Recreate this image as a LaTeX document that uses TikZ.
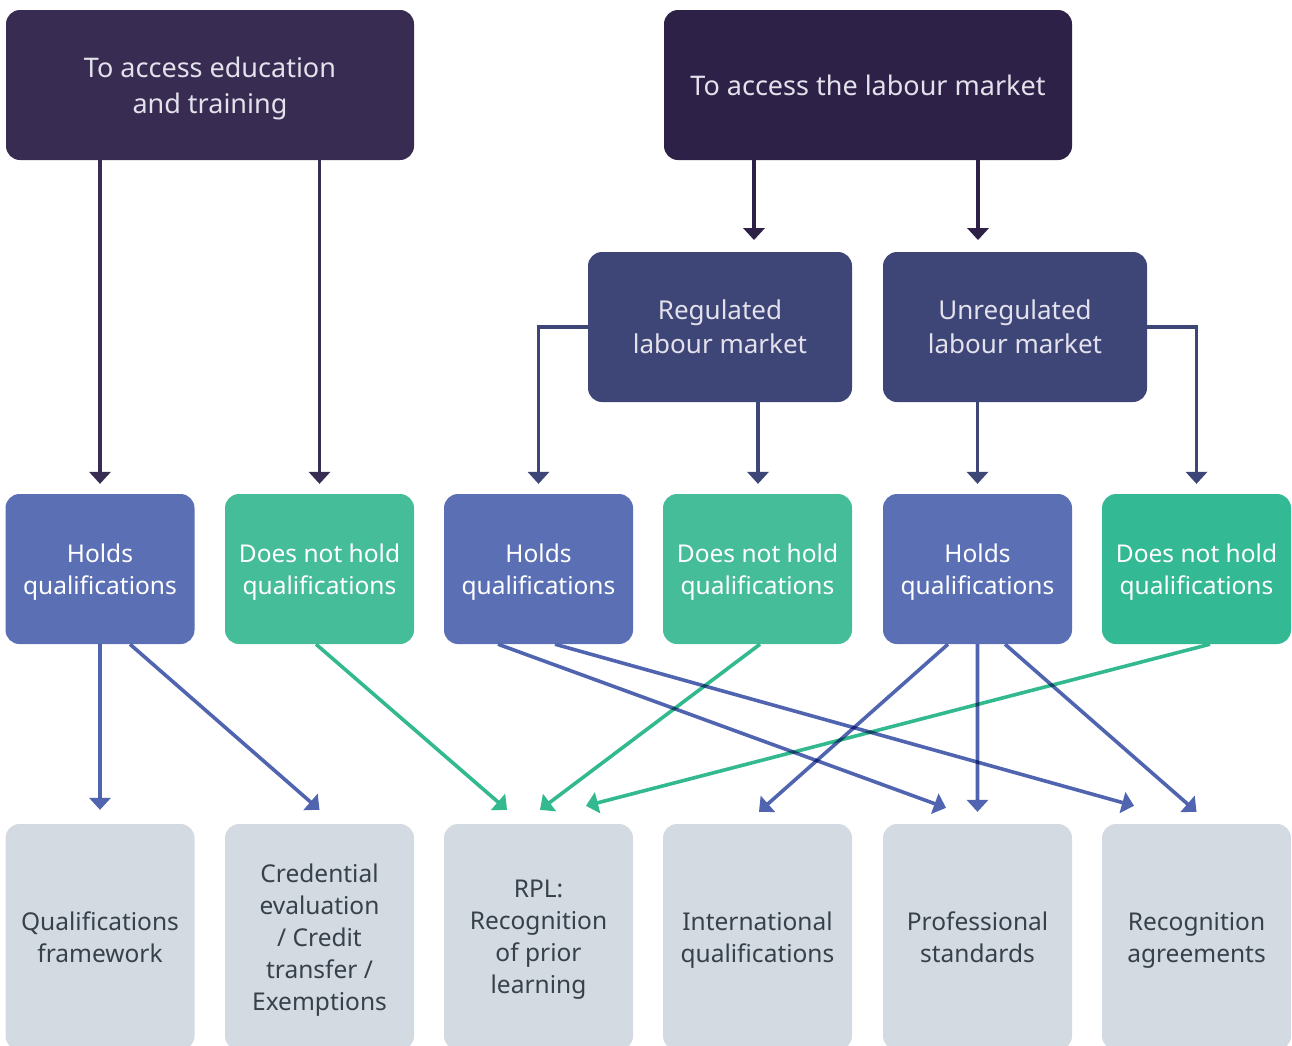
\documentclass[tikz,border=0pt]{standalone}
\usepackage{fontspec}
\setmainfont{Noto Sans}
\usetikzlibrary{arrows.meta}
\definecolor{topL}{HTML}{382C52}
\definecolor{topR}{HTML}{2E2147}
\definecolor{mid}{HTML}{3E4577}
\definecolor{blu}{HTML}{5B6FB5}
\definecolor{grn}{HTML}{45BD99}
\definecolor{grnB}{HTML}{33B994}
\definecolor{gry}{HTML}{D3DAE1}
\definecolor{bluA}{HTML}{5064B0}
\definecolor{grnA}{HTML}{33B98F}
\definecolor{lightT}{HTML}{E3E2EC}
\definecolor{darkT}{HTML}{37414B}
\tikzset{
  box/.style={rounded corners=14pt, inner sep=0pt, align=center, minimum height=150pt, text depth=0pt},
  topbox/.style={box, minimum width=408pt, text=lightT, font=\fontsize{27}{36.5}\selectfont},
  midbox/.style={box, fill=mid, minimum width=264pt, text=lightT, font=\fontsize{26}{34}\selectfont},
  qbox/.style={box, minimum width=189pt, text=white, font=\fontsize{24.5}{32}\selectfont},
  outbox/.style={box, fill=gry, minimum width=189pt, minimum height=226pt, text=darkT, font=\fontsize{24.5}{32}\selectfont},
  conn/.style={line width=3.6pt, -{Triangle[width=22pt,length=12pt,line width=0pt]}},
}
\begin{document}
\begin{tikzpicture}[x=1pt,y=-1pt]
\useasboundingbox (0,0) rectangle (1292,1045);
\clip (0,0) rectangle (1292,1045);
% top
\node[topbox, fill=topL] (edu) at (210,85) {To access education\\and training};
\node[topbox, fill=topR] (lab) at (868,85) {To access the labour market};
% middle
\node[midbox] (reg) at (720,327) {Regulated\\labour market};
\node[midbox] (unreg) at (1015,327) {Unregulated\\labour market};
% row 3
\node[qbox, fill=blu] (h1) at (100,569) {Holds\\qualifications};
\node[qbox, fill=grn] (n1) at (319.5,569) {Does not hold\\qualifications};
\node[qbox, fill=blu] (h2) at (538.5,569) {Holds\\qualifications};
\node[qbox, fill=grn] (n2) at (757.5,569) {Does not hold\\qualifications};
\node[qbox, fill=blu] (h3) at (977.5,569) {Holds\\qualifications};
\node[qbox, fill=grnB] (n3) at (1196.5,569) {Does not hold\\qualifications};
% row 4
\node[outbox] (qf) at (100,937) {Qualifications\\framework};
\node[outbox] (ce) at (319.5,937) {Credential\\evaluation\\/ Credit\\transfer /\\Exemptions};
\node[outbox] (rpl) at (538.5,937) {RPL:\\Recognition\\of prior\\learning};
\node[outbox] (iq) at (757.5,937) {International\\qualifications};
\node[outbox] (ps) at (977.5,937) {Professional\\standards};
\node[outbox] (ra) at (1196.5,937) {Recognition\\agreements};

% top connectors
\draw[conn, topL] (edu.south -| h1.north) -- ([yshift=10pt]h1.north);
\draw[conn, topL] (edu.south -| n1.north) -- ([yshift=10pt]n1.north);
\coordinate (lt1) at (754,240);
\coordinate (lt2) at (978,240);
\draw[conn, topR] (lab.south -| lt1) -- (lt1);
\draw[conn, topR] (lab.south -| lt2) -- (lt2);
% middle connectors
\draw[conn, mid] (reg.west) -| ([yshift=10pt]h2.north);
\draw[conn, mid] ([xshift=38pt]reg.south) -- ([xshift=38pt,yshift=10pt]reg.south |- h2.north);
\draw[conn, mid] (unreg.south -| h3.north) -- ([yshift=10pt]h3.north);
\draw[conn, mid] (unreg.east) -| ([yshift=10pt]n3.north);

% bottom connectors
\begin{scope}[blend group=multiply]
\draw[conn, bluA] (h1.south) -- ([yshift=14pt]qf.north);
\draw[conn, bluA] ([xshift=30pt]h1.south) -- ([yshift=14pt]ce.north);
\draw[conn, grnA] ([xshift=-3.5pt]n1.south) -- ([xshift=-31.5pt,yshift=14pt]rpl.north);
\draw[conn, bluA] ([xshift=-40.5pt]h2.south) -- ([xshift=-31.5pt,yshift=16pt]ps.north);
\draw[conn, bluA] ([xshift=16.5pt]h2.south) -- ([xshift=-62.5pt,yshift=18pt]ra.north);
\draw[conn, grnA] ([xshift=2.5pt]n2.south) -- ([xshift=1.5pt,yshift=14pt]rpl.north);
\draw[conn, bluA] ([xshift=-29.5pt]h3.south) -- ([xshift=1.5pt,yshift=12pt]iq.north);
\draw[conn, bluA] (h3.south) -- ([yshift=12pt]ps.north);
\draw[conn, bluA] ([xshift=27.5pt]h3.south) -- ([yshift=12pt]ra.north);
\draw[conn, grnA] ([xshift=13.5pt]n3.south) -- ([xshift=47.5pt,yshift=18pt]rpl.north);
\end{scope}
\end{tikzpicture}
\end{document}
